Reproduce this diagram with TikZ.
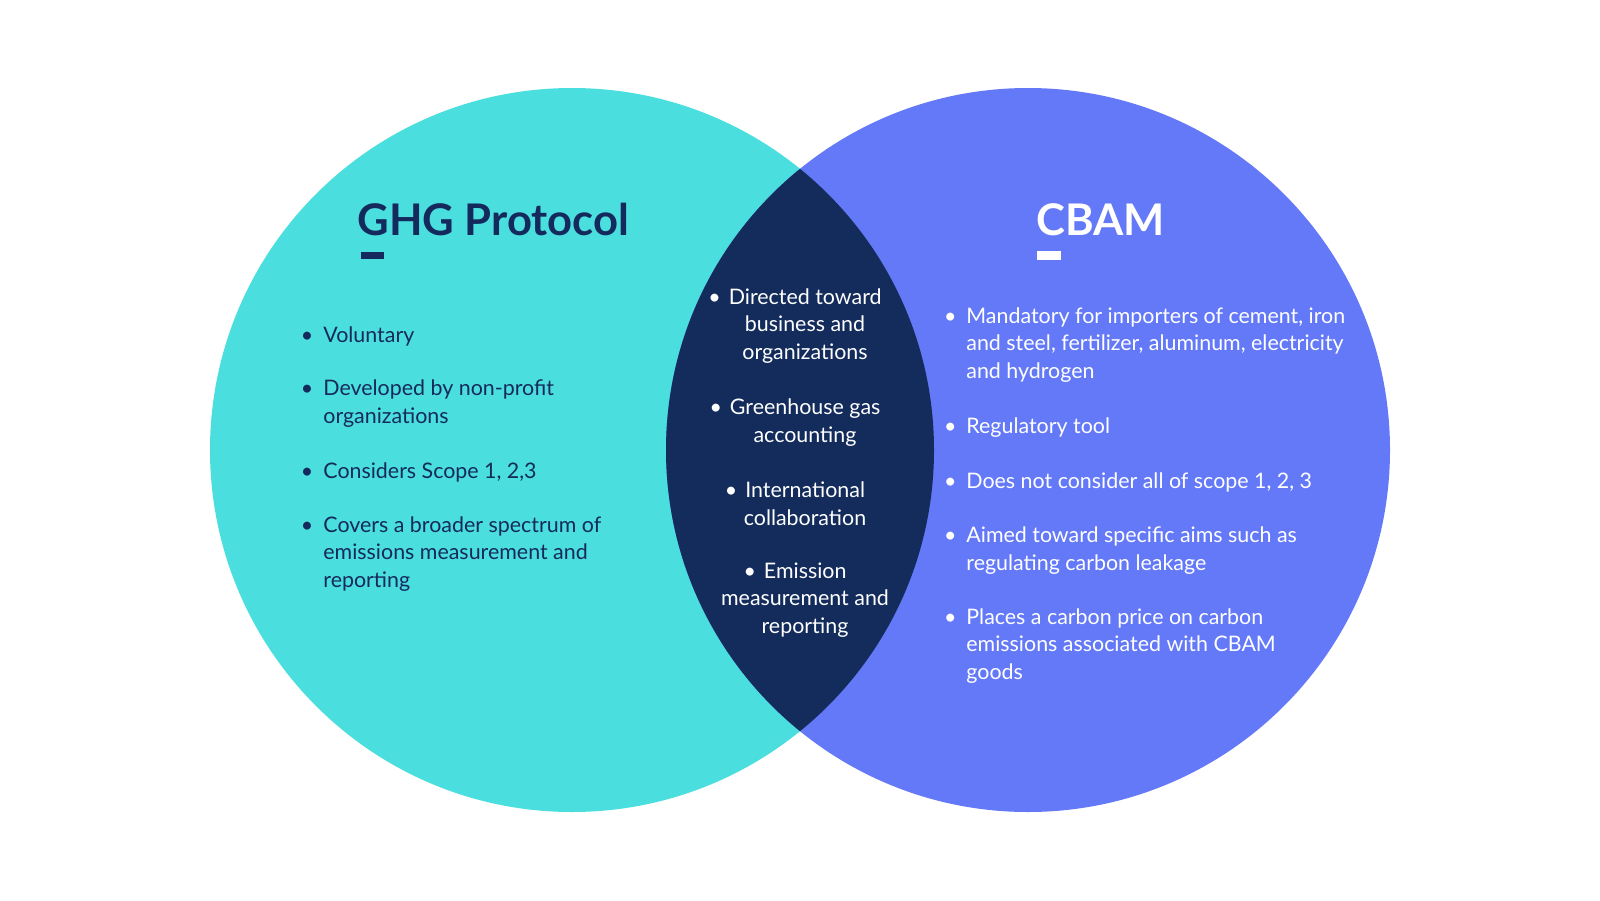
\documentclass[tikz,border=0pt]{standalone}
\usepackage{fontspec}
\setmainfont{Lato}
\usetikzlibrary{positioning}
\definecolor{ghgcyan}{RGB}{74,223,222}
\definecolor{cbamblue}{RGB}{100,121,248}
\definecolor{overlapnavy}{RGB}{19,44,92}
\definecolor{titlenavy}{RGB}{21,42,92}
\newcommand{\hangbul}{\llap{\textbullet\hspace{5pt}}}
\newcommand{\midbul}[1]{\textbullet\hspace{4pt}#1\hspace*{10pt}}

\begin{document}
\begin{tikzpicture}[x=0.5pt,y=-0.5pt,
  title/.style={font=\fontsize{21.8}{25}\selectfont\bfseries, anchor=base west, inner sep=0},
  body/.style={font=\fontsize{10.7}{13.65}\selectfont, inner sep=0, align=left, anchor=base west},
  mid/.style={body, align=center, anchor=base, text=white}]
\useasboundingbox[fill=white] (0,0) rectangle (1600,900);
% Circles and overlap
\fill[ghgcyan] (572,450) circle[radius=181pt];
\fill[cbamblue] (1028,450) circle[radius=181pt];
\begin{scope}
  \clip (572,450) circle[radius=181pt];
  \fill[overlapnavy] (1028,450) circle[radius=181pt];
\end{scope}
% GHG Protocol (left), nodes sit on the baseline of their last line
\node[title, text=titlenavy] (ghg) at (357,235) {GHG Protocol};
\fill[titlenavy] (361,252) rectangle (384,259);
\node[body, text=titlenavy] (g1) at (323,342) {\hangbul Voluntary};
\node[body, text=titlenavy] (g2) at (323,423) {\hangbul Developed by non-profit\\organizations};
\node[body, text=titlenavy] (g3) at (323,478) {\hangbul Considers Scope 1, 2,3};
\node[body, text=titlenavy] (g4) at (323,587) {\hangbul Covers a broader spectrum of\\emissions measurement and\\reporting};
% CBAM (right)
\node[title, text=white] (cbam) at (1036,235) {CBAM};
\fill[white] (1037,251) rectangle (1061,260);
\node[body, text=white] (c1) at (966,378) {\hangbul Mandatory for importers of cement, iron\\and steel, fertilizer, aluminum, electricity\\and hydrogen};
\node[body, text=white] (c2) at (966,433) {\hangbul Regulatory tool};
\node[body, text=white] (c3) at (966,488) {\hangbul Does not consider all of scope 1, 2, 3};
\node[body, text=white] (c4) at (966,570) {\hangbul Aimed toward specific aims such as\\regulating carbon leakage};
\node[body, text=white] (c5) at (966,679) {\hangbul Places a carbon price on carbon\\emissions associated with CBAM\\goods};
% Shared (middle)
\node[mid] (s1) at (805,359) {\midbul{Directed toward}\\business and\\organizations};
\node[mid] (s2) at (805,442) {\midbul{Greenhouse gas}\\accounting};
\node[mid] (s3) at (805,525) {\midbul{International}\\collaboration};
\node[mid] (s4) at (805,633) {\midbul{Emission}\\measurement and\\reporting};
\end{tikzpicture}
\end{document}
